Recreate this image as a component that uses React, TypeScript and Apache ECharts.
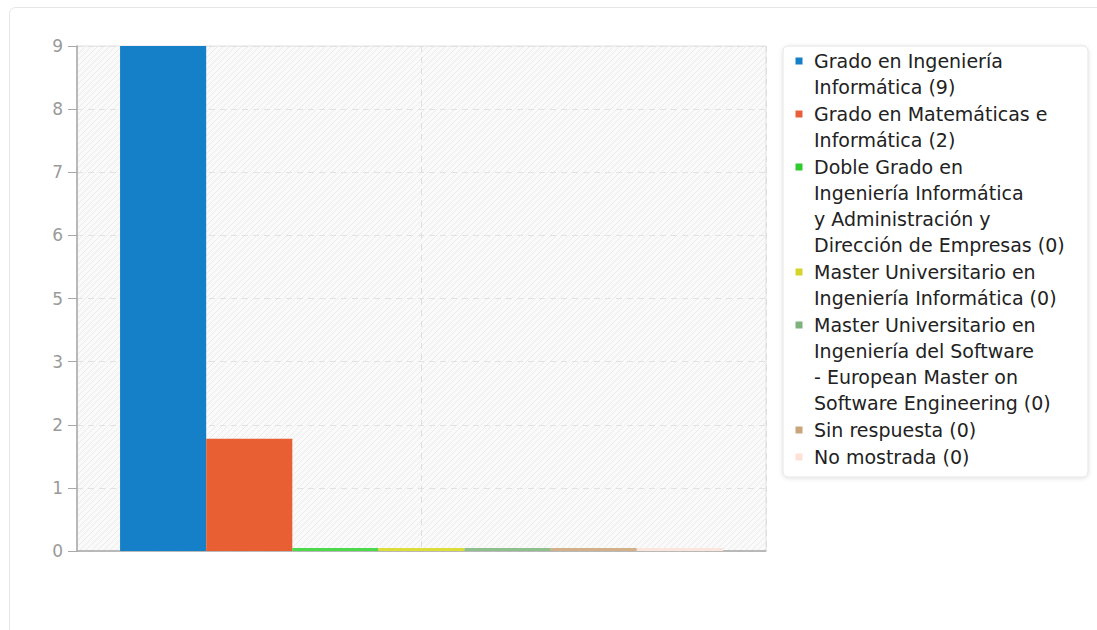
import React, { useEffect, useRef } from "react";
import * as echarts from "echarts";

const categories = ["Titulación"];
const seriesNames = [
  "Grado en Ingeniería Informática",
  "Grado en Matemáticas e Informática",
  "Doble Grado en Ingeniería Informática y Administración y Dirección de Empresas",
  "Master Universitario en Ingeniería Informática",
  "Master Universitario en Ingeniería del Software - European Master on Software Engineering",
  "Sin respuesta",
  "No mostrada",
];
const seriesValues = [9, 2, 0, 0, 0, 0, 0];
const legendLines = [
  ["Grado en Ingeniería", "Informática (9)"],
  ["Grado en Matemáticas e", "Informática (2)"],
  ["Doble Grado en", "Ingeniería Informática", "y Administración y", "Dirección de Empresas (0)"],
  ["Master Universitario en", "Ingeniería Informática (0)"],
  ["Master Universitario en", "Ingeniería del Software", "- European Master on", "Software Engineering (0)"],
  ["Sin respuesta (0)"],
  ["No mostrada (0)"],
];
const colors = ["#1580c7", "#e8603a", "#2ccc2c", "#d4d42a", "#7db27d", "#c8a57a", "#fde0d6"];
const barColors = ["#1580c7", "#e85f33", "#4cd94c", "#dcdc3a", "#8fbf8f", "#d2b08a", "#fbe6dd"];
const yTickLabels = ["0", "1", "2", "3", "5", "6", "7", "8", "9"];

const FONT = "DejaVu Sans";

function makePattern() {
  const c = document.createElement("canvas");
  c.width = 6;
  c.height = 6;
  const ctx = c.getContext("2d");
  if (ctx) {
    ctx.fillStyle = "#fafafa";
    ctx.fillRect(0, 0, 6, 6);
    ctx.strokeStyle = "#ebebeb";
    ctx.lineWidth = 1;
    ctx.beginPath();
    ctx.moveTo(-1, 7);
    ctx.lineTo(7, -1);
    ctx.moveTo(-1, 1);
    ctx.lineTo(1, -1);
    ctx.moveTo(5, 7);
    ctx.lineTo(7, 5);
    ctx.stroke();
  }
  return c;
}

export default function App() {
  const ref = useRef<HTMLDivElement>(null);
  useEffect(() => {
    if (!ref.current) return;
    const chart = echarts.init(ref.current, undefined, { renderer: "svg" });

    const legendGraphics: any[] = [];
    legendGraphics.push({
      type: "rect",
      shape: { x: 783, y: 46, width: 305, height: 431, r: 5 },
      style: {
        fill: "#fff",
        stroke: "#e4e4e4",
        lineWidth: 1,
        shadowBlur: 4,
        shadowColor: "rgba(0,0,0,0.12)",
        shadowOffsetY: 1,
      },
      z: 10,
    });
    let y = 61;
    legendLines.forEach((lines, i) => {
      legendGraphics.push({
        type: "rect",
        shape: { x: 795.5, y: y - 3.5, width: 7, height: 7 },
        style: { fill: colors[i] },
        z: 11,
      });
      lines.forEach((ln, j) => {
        legendGraphics.push({
          type: "text",
          x: 814,
          y: y + j * 26,
          style: {
            text: ln,
            fill: "#222",
            font: `19px "${FONT}"`,
            verticalAlign: "middle",
            align: "left",
          },
          z: 11,
        });
      });
      y += lines.length * 26 + 1;
    });

    const option: any = {
      animation: false,
      backgroundColor: "#fff",
      graphic: [
        {
          type: "rect",
          shape: { x: 9.5, y: 7.5, width: 1120, height: 700, r: 6 },
          style: { fill: "none", stroke: "#e6e6e6", lineWidth: 1 },
          z: 0,
        },
        ...legendGraphics,
      ],
      grid: {
        left: 77,
        top: 46,
        width: 689,
        height: 505,
        show: true,
        backgroundColor: { image: makePattern(), repeat: "repeat" },
        borderColor: "#e0e0e0",
        borderWidth: 1,
      },
      xAxis: [
        {
          type: "category",
          data: categories,
          axisLine: { show: true, lineStyle: { color: "#a9a9a9", width: 1.5 } },
          axisTick: { show: false },
          axisLabel: { show: false },
          splitLine: { show: false },
        },
        {
          type: "value",
          min: 0,
          max: 2,
          interval: 1,
          position: "top",
          axisLine: { show: false },
          axisTick: { show: false },
          axisLabel: { show: false },
          splitLine: { show: true, lineStyle: { color: "#dedede", type: [6, 5] } },
        },
      ],
      yAxis: {
        type: "value",
        min: 0,
        max: 9,
        interval: 1.125,
        axisLine: { show: true, lineStyle: { color: "#a9a9a9", width: 1.5 } },
        axisTick: { show: true, length: 9, lineStyle: { color: "#a9a9a9" } },
        axisLabel: {
          color: "#9a9a9a",
          fontSize: 17,
          fontFamily: FONT,
          margin: 14,
          formatter: (_v: number, idx: number) => yTickLabels[idx] ?? "",
        },
        splitLine: { show: true, lineStyle: { color: "#e2e2e2", type: [6, 5] } },
      },
      series: seriesNames.map((name, i) => ({
        name,
        type: "bar",
        xAxisIndex: 0,
        data: [seriesValues[i]],
        barGap: "0%",
        barCategoryGap: "12.5%",
        barMinHeight: 3,
        itemStyle: {
          color: barColors[i],
          borderWidth: 0,
        },
      })),
    };
    chart.setOption(option);
    return () => chart.dispose();
  }, []);
  return (
    <div
      ref={ref}
      style={{ position: "absolute", left: 0, top: 0, width: 1097, height: 630 }}
    />
  );
}
